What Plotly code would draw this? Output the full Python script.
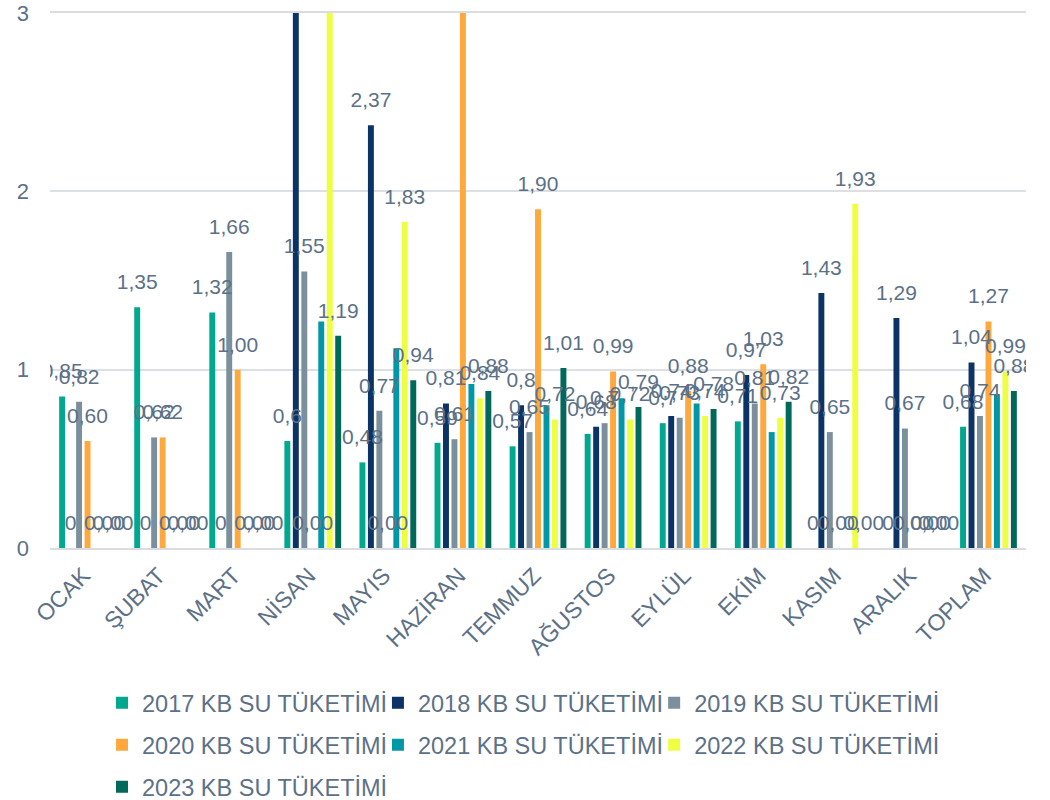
import plotly.graph_objects as go

months = ["OCAK", "ŞUBAT", "MART", "NİSAN", "MAYIS", "HAZİRAN", "TEMMUZ",
          "AĞUSTOS", "EYLÜL", "EKİM", "KASIM", "ARALIK", "TOPLAM"]

names = ["2017 KB SU TÜKETİMİ", "2018 KB SU TÜKETİMİ", "2019 KB SU TÜKETİMİ",
         "2020 KB SU TÜKETİMİ", "2021 KB SU TÜKETİMİ", "2022 KB SU TÜKETİMİ",
         "2023 KB SU TÜKETİMİ"]

s2017 = [0.85, 1.35, 1.32, 0.60, 0.48, 0.59, 0.57, 0.64, 0.70, 0.71, 0, 0, 0.68]
s2018 = [0, 0, 0, 3.40, 2.37, 0.81, 0.80, 0.68, 0.74, 0.97, 1.43, 1.29, 1.04]
s2019 = [0.82, 0.62, 1.66, 1.55, 0.77, 0.61, 0.65, 0.70, 0.73, 0.81, 0.65, 0.67, 0.74]
s2020 = [0.60, 0.62, 1.00, 0, 0, 3.30, 1.90, 0.99, 0.88, 1.03, 0, 0, 1.27]
s2021 = [0, 0, 0, 1.27, 1.12, 0.92, 0.80, 0.84, 0.81, 0.65, 0, 0, 0.86]
s2022 = [0, 0, 0, 3.20, 1.83, 0.84, 0.72, 0.72, 0.74, 0.73, 1.93, 0, 0.99]
s2023 = [0, 0, 0, 1.19, 0.94, 0.88, 1.01, 0.79, 0.78, 0.82, 0, 0, 0.88]

series = [s2017, s2018, s2019, s2020, s2021, s2022, s2023]
# label number format per series: "g" = general (trailing zeros dropped), "f" = two decimals, None = no labels
label_fmt = ["g", "g", "g", "f", None, "f", "f"]

Y_MAX = 3

colors = ["#00A88F", "#0B3366", "#7B909C", "#FFA83E", "#0098A6", "#EEFF41", "#00695C"]

TXT = "#5C7187"
FONT = "Liberation Sans, Arial, sans-serif"

# legend grid: 3 columns, rows below the plot (paper coordinates)
LEG_COLS = [0.0533, 0.336, 0.619]
LEG_ROWS = [-0.2897, -0.3682, -0.4467]


def fmt(v, kind):
    if kind is None or v > Y_MAX:
        return ""  # no label / label falls outside the visible axis range
    if kind == "f":
        s = f"{v:.2f}"
    else:
        s = f"{v:.2f}".rstrip("0").rstrip(".")
        if s == "":
            s = "0"
    return s.replace(".", ",")


fig = go.Figure()
legend_layout = {}
for i, (name, vals) in enumerate(zip(names, series)):
    lid = "legend" if i == 0 else f"legend{i + 1}"
    fig.add_trace(go.Bar(
        x=months, y=vals, name=name, marker_color=colors[i],
        marker_line_width=0, legend=lid, hoverinfo="skip"))
    legend_layout[lid] = dict(
        orientation="h", x=LEG_COLS[i % 3], xanchor="left",
        y=LEG_ROWS[i // 3], yanchor="middle",
        font=dict(size=23.5, color=TXT, family=FONT),
        bgcolor="rgba(0,0,0,0)")

for i, (name, vals) in enumerate(zip(names, series)):
    texts = [fmt(v, label_fmt[i]) for v in vals]
    fig.add_trace(go.Scatter(
        x=months, y=vals, mode="markers+text", text=texts,
        textposition="top center",
        textfont=dict(size=21, color=TXT, family=FONT),
        marker=dict(size=19, opacity=0, color=colors[i]),
        showlegend=False, hoverinfo="skip", cliponaxis=True))

fig.update_layout(
    width=1050, height=800,
    margin=dict(l=50, r=24, t=13, b=252, autoexpand=False),
    paper_bgcolor="white", plot_bgcolor="white",
    barmode="group", bargap=0.21, bargroupgap=0.3,
    scattermode="group", scattergap=0.21,
    font=dict(family=FONT, color=TXT, size=21),
    xaxis=dict(tickangle=-45, tickfont=dict(size=23, color=TXT),
               showgrid=False, showline=True, linecolor="#D9DDE2", linewidth=2,
               mirror=True,
               ticks="", ticklabelstandoff=3, ticklabelshift=-4, automargin=False),
    yaxis=dict(range=[0, Y_MAX], dtick=1, showgrid=True, gridcolor="#DCE0E5",
               gridwidth=2, zeroline=False, showline=False, automargin=False,
               ticklabeloverflow="allow",
               tickfont=dict(size=22, color=TXT), ticklabelstandoff=20),
    **legend_layout,
)

fig.write_html("out.html", config={"displayModeBar": False},
               post_script="document.body.style.margin='0';")
